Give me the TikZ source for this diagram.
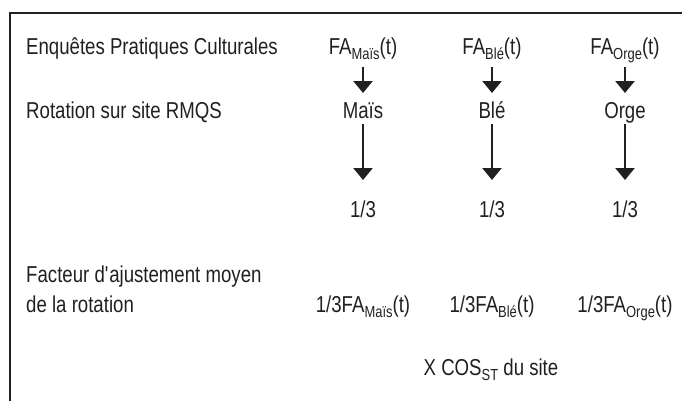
\documentclass[tikz,border=0pt]{standalone}
\usepackage{fontspec}
\setmainfont{Liberation Sans}[FakeStretch=0.81]
\usetikzlibrary{arrows.meta}
\definecolor{ink}{HTML}{231F20}
\newcommand{\sub}[1]{\raisebox{-5pt}{\fontsize{16}{16}\selectfont #1}}
\tikzset{every path/.style={ink,line width=2.4pt}, every node/.style={ink,inner sep=0pt,font=\fontsize{23}{30}\selectfont},
  lbl/.style={anchor=base west}, txt/.style={anchor=base}, arr/.style={-{Triangle[width=19pt,length=12pt]}}}

\begin{document}
\begin{tikzpicture}[x=1pt,y=-1pt]
  \useasboundingbox (0,0) rectangle (682,400);
  \draw (10,403) -- (10,13) -- (685,13);
  \node[lbl] (enq) at (25,54) {Enquêtes Pratiques Culturales};
  \node[lbl] (rot) at (25,118) {Rotation sur site RMQS};
  \node[lbl] (fac) at (25,282) {Facteur d\textquotesingle ajustement moyen};
  \node[lbl] (moy) at (25,312) {de la rotation};
  \foreach \x/\crop/\k in {363/Maïs/a, 492/Blé/b, 625/Orge/c} {
    \node[txt] (fa\k) at (\x,54) {FA\sub{\crop}(t)};
    \node[txt] (cult\k) at (\x,118) {\crop};
    \node[txt] (part\k) at (\x,217) {1/3};
    \node[txt] (adj\k) at (\x,312) {1/3FA\sub{\crop}(t)};
    \draw[arr] ([yshift=-13pt]fa\k.base) -- ([yshift=25pt]cult\k.base);
    \draw[arr] ([yshift=-6pt]cult\k.base) -- ([yshift=37pt]part\k.base);
  }
  \node[txt] (cos) at (491,375) {X COS\sub{ST} du site};
\end{tikzpicture}
\end{document}
